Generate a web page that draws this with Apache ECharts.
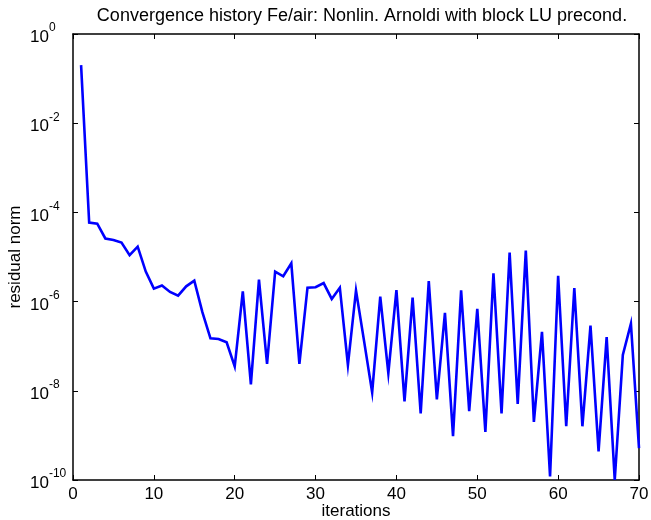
<!DOCTYPE html>
<html>
<head>
<meta charset="utf-8">
<script src="https://cdn.jsdelivr.net/npm/echarts@6/dist/echarts.min.js"></script>
<style>
html,body{margin:0;padding:0;background:#fff;}
#chart{width:651px;height:520px;}
</style>
</head>
<body>
<div id="chart"></div>
<script>
// Data
var titleText = 'Convergence history Fe/air: Nonlin. Arnoldi with block LU precond.';
var xAxisName = 'iterations';
var yAxisName = 'residual norm';
var iterations = [];
for (var k = 1; k <= 70; k++) iterations.push(k);
var residuals = [
  0.2, 5.9e-5, 5.6e-5, 2.6e-5, 2.4e-5, 2.1e-5, 1.1e-5, 1.7e-5, 4.7e-6, 1.95e-6,
  2.3e-6, 1.65e-6, 1.36e-6, 2.2e-6, 2.96e-6, 5.8e-7, 1.5e-7, 1.45e-7, 1.22e-7, 3.5e-8,
  1.7e-6, 1.4e-8, 3.1e-6, 4.0e-8, 4.7e-6, 3.7e-6, 7.2e-6, 4.0e-8, 2.05e-6, 2.1e-6,
  2.6e-6, 1.15e-6, 2.05e-6, 3.8e-8, 1.78e-6, 1.3e-7, 9.2e-9, 1.3e-6, 2.5e-8, 1.8e-6,
  5.8e-9, 1.23e-6, 3.1e-9, 2.9e-6, 6.4e-9, 5.6e-7, 9.6e-10, 1.8e-6, 3.5e-9, 6.9e-7,
  1.2e-9, 4.3e-6, 3.1e-9, 1.26e-5, 5.1e-9, 1.4e-5, 2.0e-9, 2.1e-7, 1.2e-10, 3.8e-6,
  1.6e-9, 2.0e-6, 1.6e-9, 2.9e-7, 4.4e-10, 1.6e-7, 1.0e-10, 6.4e-8, 3.2e-7, 5.2e-10
];
var xTicks = [0, 10, 20, 30, 40, 50, 60, 70];
var yTickExponents = [0, -2, -4, -6, -8, -10];

var FONT = "'Liberation Sans', Arial, Helvetica, sans-serif";
var seriesData = iterations.map(function (x, i) { return [x, residuals[i]]; });

function yLabel(v) {
  var e = Math.round(Math.log10(v));
  if (yTickExponents.indexOf(e) < 0) return '';
  return '{b|10}{s|' + (e < 0 ? '-' + (-e) : e) + '}';
}

var axisLineStyle = { color: '#000', width: 1.5 };
var chart = echarts.init(document.getElementById('chart'), null, { renderer: 'canvas' });
chart.setOption({
  animation: false,
  backgroundColor: '#fff',
  textStyle: { fontFamily: FONT },
  title: {
    text: titleText,
    left: 357,
    textAlign: 'center',
    top: 2,
    textStyle: { fontFamily: FONT, fontSize: 18, fontWeight: 'normal', color: '#000' }
  },
  grid: { left: 73, right: 12, top: 34, bottom: 40, containLabel: false, outerBoundsMode: 'none' },
  xAxis: [{
    type: 'value', min: xTicks[0], max: xTicks[xTicks.length - 1], interval: 10,
    name: xAxisName, nameLocation: 'middle', nameGap: 23, nameMoveOverlap: false,
    nameTextStyle: { fontFamily: FONT, fontSize: 17, color: '#000' },
    axisLine: { show: true, onZero: false, lineStyle: axisLineStyle },
    axisTick: { show: true, inside: true, length: 5, lineStyle: { color: '#000', width: 1 } },
    axisLabel: { margin: 6, fontFamily: FONT, fontSize: 17, color: '#000' },
    splitLine: { show: false }
  }, {
    type: 'value', position: 'top', min: xTicks[0], max: xTicks[xTicks.length - 1], interval: 10,
    axisLine: { show: true, onZero: false, lineStyle: axisLineStyle },
    axisTick: { show: true, inside: true, length: 5, lineStyle: { color: '#000', width: 1 } },
    axisLabel: { show: false },
    splitLine: { show: false }
  }],
  yAxis: [{
    type: 'log', logBase: 10, min: 1e-10, max: 1, interval: 2,
    name: yAxisName, nameLocation: 'middle', nameGap: 49, nameMoveOverlap: false,
    nameTextStyle: { fontFamily: FONT, fontSize: 17, color: '#000' },
    axisLine: { show: true, onZero: false, lineStyle: axisLineStyle },
    axisTick: { show: true, inside: true, length: 5, lineStyle: { color: '#000', width: 1 } },
    axisLabel: {
      margin: 43, align: 'left', formatter: yLabel,
      rich: {
        b: { fontFamily: FONT, fontSize: 17, color: '#000', lineHeight: 24, verticalAlign: 'bottom' },
        s: { fontFamily: FONT, fontSize: 12, color: '#000', lineHeight: 12, verticalAlign: 'top' }
      }
    },
    splitLine: { show: false },
    minorTick: { show: false }
  }, {
    type: 'log', logBase: 10, position: 'right', min: 1e-10, max: 1, interval: 2,
    axisLine: { show: true, onZero: false, lineStyle: axisLineStyle },
    axisTick: { show: true, inside: true, length: 5, lineStyle: { color: '#000', width: 1 } },
    axisLabel: { show: false },
    splitLine: { show: false }
  }],
  series: [{
    type: 'line',
    xAxisIndex: 0, yAxisIndex: 0,
    data: seriesData,
    showSymbol: false,
    symbol: 'none',
    clip: true,
    lineStyle: { color: '#0000ff', width: 2.6, join: 'miter' },
    itemStyle: { color: '#0000ff' }
  }]
});
</script>
</body>
</html>
